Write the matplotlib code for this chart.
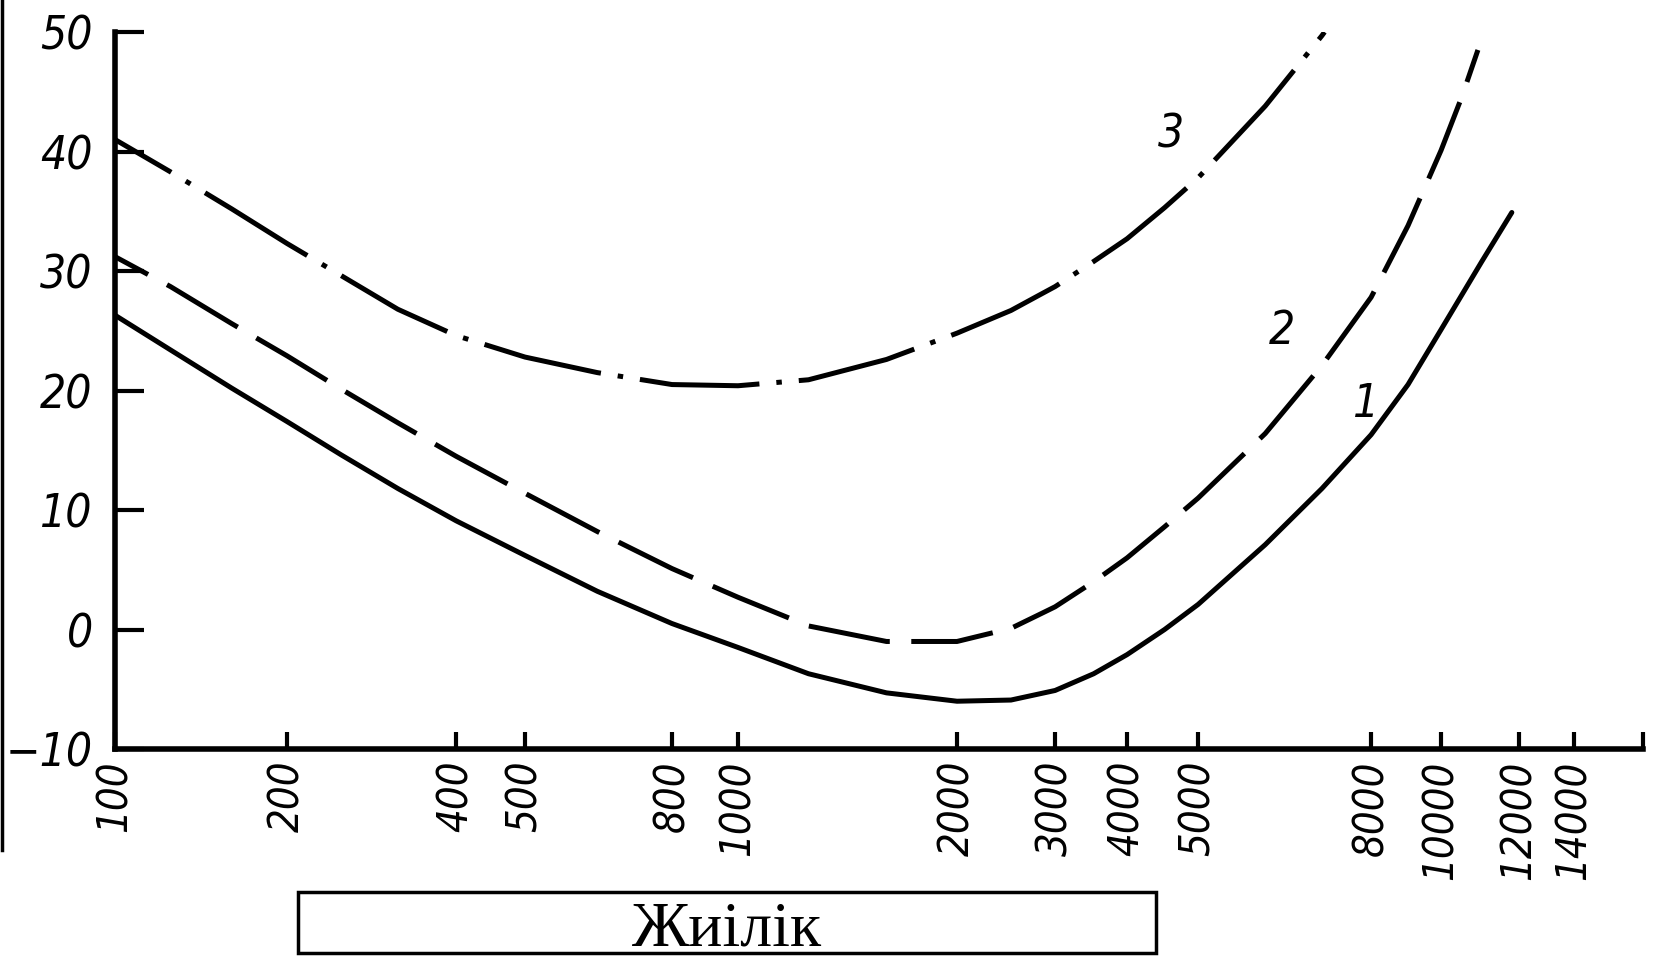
import numpy as np
import matplotlib
matplotlib.use("Agg")
import matplotlib.pyplot as plt
from matplotlib import font_manager
from matplotlib.patches import Rectangle
from matplotlib.lines import Line2D

# hand-drawn frequency axis: where each labelled tick sits, as a fraction of the axis length
TICK_FREQ = [100, 200, 400, 500, 800, 1000, 2000, 3000, 4000, 5000, 8000, 10000, 12000, 14000]
TICK_POS = [0.0, 0.1126, 0.2232, 0.2683, 0.3645, 0.4077, 0.5510, 0.6152, 0.6623, 0.7088,
            0.8220, 0.8678, 0.9188, 0.9548]
END_FREQ = 17000

Y_TICKS = [-10, 0, 10, 20, 30, 40, 50]
Y_LABELS = ["\u221210", "0", "10", "20", "30", "40", "50"]

# curve 1 (solid)
freq_1 = [100, 125, 160, 200, 250, 315, 400, 500, 630, 800, 1000, 1250, 1600, 2000, 2500,
          3000, 3500, 4000, 4500, 5000, 6000, 7000, 8000, 9000, 10000, 11000, 11800]
db_1 = [26.3, 23.4, 20.2, 17.4, 14.6, 11.8, 9.1, 6.2, 3.2, 0.5, -1.5, -3.7, -5.3, -6.0, -5.9,
        -5.1, -3.7, -2.1, 0.0, 2.1, 7.1, 11.8, 16.3, 20.5, 25.1, 30.8, 34.9]

# curve 2 (dashed)
freq_2 = [100, 125, 160, 200, 250, 315, 400, 500, 630, 800, 1000, 1250, 1600, 2000, 2500,
          3000, 3500, 4000, 4500, 5000, 6000, 7000, 8000, 9000, 10000, 10500, 10900]
db_2 = [31.2, 28.7, 25.6, 22.9, 20.1, 17.3, 14.5, 11.4, 8.2, 5.1, 2.7, 0.3, -1.0, -1.0, 0.1,
        1.9, 4.0, 6.0, 8.6, 11.0, 16.4, 22.1, 27.8, 33.8, 40.1, 44.6, 48.5]

# curve 3 (dash-dot)
freq_3 = [100, 125, 160, 200, 250, 315, 400, 500, 630, 800, 1000, 1250, 1600, 2000, 2500,
          3000, 3500, 4000, 4500, 5000, 6000, 7000, 7050]
db_3 = [41.0, 38.3, 35.2, 32.3, 29.6, 26.8, 24.6, 22.8, 21.5, 20.5, 20.4, 20.9, 22.6, 24.8, 26.7,
        28.7, 30.8, 32.7, 35.3, 37.8, 43.8, 49.7, 50.0]

CURVE_NAMES = ["1", "2", "3"]
NAME_FREQ = [7890, 6280, 4590]
NAME_DB = [18.8, 24.9, 41.4]

XLABEL = "Жиілік"

# pick a narrow italic face for the numbers if one is installed
fonts = font_manager.fontManager.ttflist
names = {f.name for f in fonts}
STRETCH = "normal"
if "Liberation Sans Narrow" in names:
    NUM_FONT, X_SIZE, Y_SIZE = "Liberation Sans Narrow", 36, 38
elif any(f.name == "DejaVu Sans" and f.stretch == "condensed" and f.style != "normal" for f in fonts):
    NUM_FONT, X_SIZE, Y_SIZE, STRETCH = "DejaVu Sans", 30, 33, "condensed"
else:
    NUM_FONT, X_SIZE, Y_SIZE = "DejaVu Sans", 28, 32

log_f = np.log10(TICK_FREQ + [END_FREQ])
pos = np.array(TICK_POS + [1.0])


def forward(f):
    f = np.clip(np.asarray(f, dtype=float), 1.0, None)
    return np.interp(np.log10(f), log_f, pos)


def inverse(p):
    return 10 ** np.interp(np.asarray(p, dtype=float), pos, log_f)


fig = plt.figure(figsize=(16.53, 9.56), dpi=100)
ax = fig.add_axes([0.0696, 0.2165, 0.9244, 0.75])
ax.set_xscale("function", functions=(forward, inverse))

lw = 3.6
ax.plot(freq_1, db_1, color="black", lw=lw, solid_capstyle="round", solid_joinstyle="round")
ax.plot(freq_2, db_2, color="black", lw=lw, linestyle=(9, (16.5, 4.3)), dash_capstyle="butt")
ax.plot(freq_3, db_3, color="black", lw=lw, linestyle=(11, (24, 3.4, 1.1, 3.4)), dash_capstyle="butt")

for name, f, d in zip(CURVE_NAMES, NAME_FREQ, NAME_DB):
    ax.text(f, d, name, fontsize=Y_SIZE, family=NUM_FONT, style="italic", stretch=STRETCH,
            ha="center", va="center")

ax.set_xlim(TICK_FREQ[0], END_FREQ)
ax.set_ylim(Y_TICKS[0], Y_TICKS[-1])
ax.set_xticks(TICK_FREQ)
ax.set_xticklabels([str(f) for f in TICK_FREQ])
ax.xaxis.set_minor_locator(matplotlib.ticker.FixedLocator([END_FREQ]))
ax.set_yticks(Y_TICKS)
ax.set_yticklabels(Y_LABELS)

for s in ["top", "right"]:
    ax.spines[s].set_visible(False)
for s in ["left", "bottom"]:
    ax.spines[s].set_linewidth(4)

ax.tick_params(axis="y", direction="in", length=21, width=3, pad=16)
ax.tick_params(axis="x", which="both", direction="in", length=12, width=3, pad=8)
for lab in ax.get_yticklabels():
    lab.set_fontfamily(NUM_FONT)
    lab.set_fontsize(Y_SIZE)
    lab.set_fontstretch(STRETCH)
    lab.set_style("italic")
for lab in ax.get_xticklabels():
    lab.set_fontfamily(NUM_FONT)
    lab.set_fontsize(X_SIZE)
    lab.set_fontstretch(STRETCH)
    lab.set_style("italic")
    lab.set_rotation(90)

# scan border on the left edge
fig.add_artist(Line2D([0.001, 0.001], [1.0, 0.111], color="black", lw=2.5,
                      transform=fig.transFigure))

fig.add_artist(Rectangle((0.1803, 0.003), 0.519, 0.0635, transform=fig.transFigure,
                         fill=False, edgecolor="black", lw=2.5))
fig.text(0.4398, 0.0115, XLABEL, family="Liberation Serif", fontsize=46,
         ha="center", va="baseline")

fig.savefig("out.png", dpi=100)
plt.close(fig)
